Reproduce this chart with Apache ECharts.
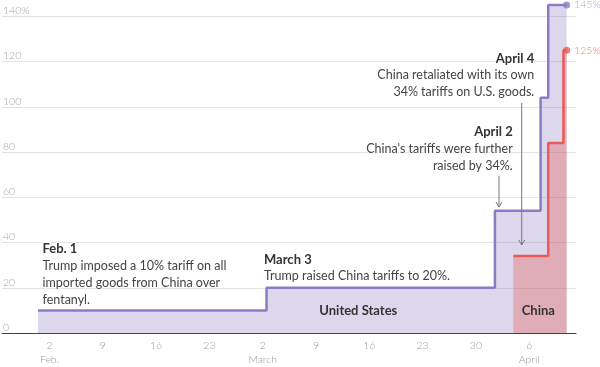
<!DOCTYPE html>
<html><head><meta charset="utf-8">
<script src="https://cdn.jsdelivr.net/npm/echarts@6/dist/echarts.min.js"></script>
<style>html,body{margin:0;padding:0;background:#fff}#c{width:600px;height:367px}</style>
</head><body><div id="c"></div>
<script>
// ---- data ----
const usDates = ['2025-02-01', '2025-03-03', '2025-04-02', '2025-04-08', '2025-04-09', '2025-04-11T10:00'];
const usValues = [10, 20, 54, 104, 145, 145];
const cnDates = ['2025-04-04T10:00', '2025-04-09', '2025-04-11', '2025-04-11T10:00'];
const cnValues = [34, 84, 125, 125];
const tickDates = ['2025-02-02', '2025-02-09', '2025-02-16', '2025-02-23', '2025-03-02', '2025-03-09', '2025-03-16', '2025-03-23', '2025-03-30', '2025-04-06'];
const tickDays = ['2', '9', '16', '23', '2', '9', '16', '23', '30', '6'];
const tickMonths = ['Feb.', '', '', '', 'March', '', '', '', '', 'April'];
const yTickLabels = ['0', '20', '40', '60', '80', '100', '120', '140%'];

// day number, counted from 26 Jan 2025 noon (labels sit at midday)
const EPOCH = Date.UTC(2025, 0, 26, 12);
function dv(s) {
  const t = s.length === 10 ? Date.parse(s + 'T00:00:00Z') : Date.parse(s + ':00Z');
  return (t - EPOCH) / 864e5;
}
const tickVals = tickDates.map(d => dv(d) + 0.5);

const FONT = 'Lato, "Open Sans", sans-serif';
const PURPLE = '#8c7cc4';
const RED = '#e85c56';

const chart = echarts.init(document.getElementById('c'), null, {renderer: 'canvas'});

function txt(x, y, text, opts) {
  return {
    type: 'text', x: x, y: y, z: 50,
    style: Object.assign({
      text: text,
      fontFamily: FONT, fontSize: 12.5, fontWeight: 'normal',
      fill: '#444', align: 'left', verticalAlign: 'middle',
      textAlign: 'left', textVerticalAlign: 'middle',
      lineHeight: 17,
      stroke: '#fff', lineWidth: 2
    }, opts || {})
  };
}
function head(x, y, text, align) {
  return txt(x, y, text, {fontWeight: 'bold', fontSize: 13, fill: '#333', align: align || 'left', textAlign: align || 'left'});
}
function body(x, y, text, align) {
  return txt(x, y, text, {align: align || 'left', textAlign: align || 'left', verticalAlign: 'top', textVerticalAlign: 'top'});
}
function arrow(x, y1, y2) {
  return [
    {type: 'line', z: 40, shape: {x1: x, y1: y1, x2: x, y2: y2}, style: {stroke: '#777', lineWidth: 1}},
    {type: 'polyline', z: 40, shape: {points: [[x - 3, y2 - 5], [x, y2], [x + 3, y2 - 5]]}, style: {stroke: '#777', lineWidth: 1, fill: null}}
  ];
}

const option = {
  animation: false,
  backgroundColor: '#fff',
  grid: {left: 0, right: 24, top: 16.3, bottom: 33.5, containLabel: false},
  xAxis: {
    type: 'value', min: 0.76, max: 76.15,
    axisLine: {show: true, onZero: true, lineStyle: {color: '#444', width: 1}},
    axisTick: {show: false},
    splitLine: {show: false},
    axisLabel: {
      customValues: tickVals,
      margin: 6, fontSize: 10.5, fontWeight: 300, fontFamily: FONT, color: '#9a9a9a', lineHeight: 14,
      formatter: function (v) {
        const i = tickVals.findIndex(t => Math.abs(t - v) < 0.01);
        if (i < 0) return '';
        return tickMonths[i] ? tickDays[i] + '\n' + tickMonths[i] : tickDays[i];
      }
    }
  },
  yAxis: {
    type: 'value', min: 0, max: 140, interval: 20,
    axisLine: {show: false}, axisTick: {show: false},
    splitLine: {lineStyle: {color: '#e3e3e3', width: 1}},
    axisLabel: {
      inside: true, margin: 1, verticalAlign: 'bottom',
      fontSize: 10.5, fontWeight: 300, fontFamily: FONT, color: '#a5a5a5',
      formatter: function (v) { return yTickLabels[Math.round(v / 20)] || ''; }
    }
  },
  series: [
    {
      type: 'line', step: 'end', clip: false, z: 2,
      data: usDates.map((d, i) => [dv(d), usValues[i]]),
      symbol: 'none',
      lineStyle: {color: PURPLE, width: 2.5},
      areaStyle: {color: PURPLE, opacity: 0.3}
    },
    {
      type: 'line', step: 'end', clip: false, z: 3,
      data: cnDates.map((d, i) => [dv(d), cnValues[i]]),
      symbol: 'none',
      lineStyle: {color: RED, width: 2.5},
      areaStyle: {color: RED, opacity: 0.35}
    },
    {
      type: 'scatter', clip: false, z: 5, symbolSize: 7,
      data: [
        {value: [dv(usDates[usDates.length - 1]), usValues[usValues.length - 1]], itemStyle: {color: PURPLE},
         label: {color: '#9a8dcc'}},
        {value: [dv(cnDates[cnDates.length - 1]), cnValues[cnValues.length - 1]], itemStyle: {color: RED},
         label: {color: RED}}
      ],
      label: {
        show: true, position: 'right', distance: 4,
        fontSize: 10.5, fontWeight: 300, fontFamily: FONT,
        formatter: p => p.value[1] + '%'
      }
    }
  ],
  graphic: [].concat(
    [
      head(42.5, 249.2, 'Feb. 1'),
      body(42.5, 257, 'Trump imposed a 10% tariff on all\nimported goods from China over\nfentanyl.'),
      head(264, 260, 'March 3'),
      body(264, 267.5, 'Trump raised China tariffs to 20%.'),
      head(534.3, 59.3, 'April 4', 'right'),
      body(534.3, 66.5, 'China retaliated with its own\n34% tariffs on U.S. goods.', 'right'),
      head(512.7, 132, 'April 2', 'right'),
      body(512.7, 140, "China's tariffs were further\nraised by 34%.", 'right'),
      txt(358.3, 311, 'United States', {fontWeight: 'bold', fontSize: 13, fill: '#333', align: 'center', textAlign: 'center', stroke: null, lineWidth: 0}),
      txt(538.3, 311, 'China', {fontWeight: 'bold', fontSize: 13, fill: '#333', align: 'center', textAlign: 'center', stroke: null, lineWidth: 0})
    ],
    arrow(499, 176, 207),
    arrow(521.7, 103, 245)
  )
};
chart.setOption(option);
</script>
</body></html>
